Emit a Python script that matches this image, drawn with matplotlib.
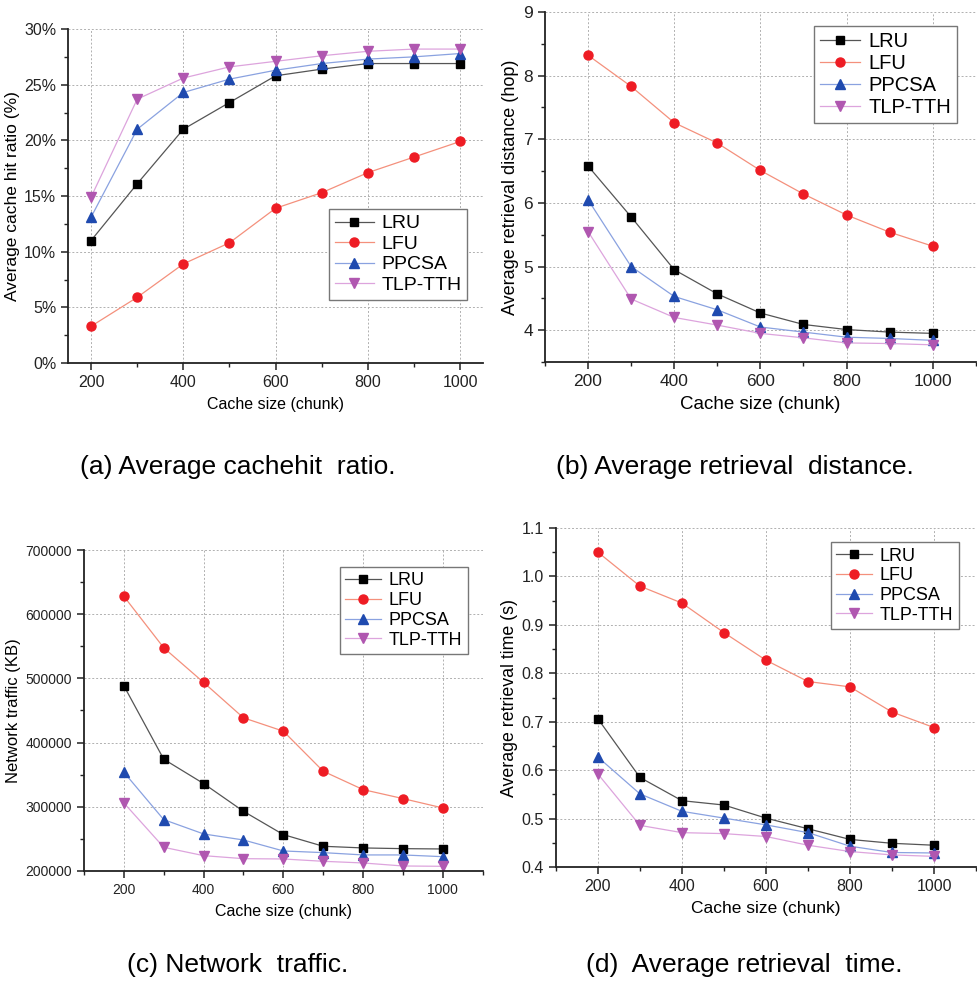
import matplotlib
matplotlib.use("Agg")
import matplotlib.pyplot as plt
from matplotlib.ticker import MultipleLocator, PercentFormatter, FormatStrFormatter

plt.rcParams['font.family'] = ['Liberation Sans', 'DejaVu Sans']

cache_size = [200, 300, 400, 500, 600, 700, 800, 900, 1000]
methods = ['LRU', 'LFU', 'PPCSA', 'TLP-TTH']

# (a) average cache hit ratio, %
hit_lru = [11.0, 16.1, 21.0, 23.4, 25.8, 26.4, 26.9, 26.9, 26.9]
hit_lfu = [3.3, 5.9, 8.9, 10.8, 13.9, 15.3, 17.1, 18.5, 19.9]
hit_ppcsa = [13.1, 21.0, 24.3, 25.5, 26.3, 26.9, 27.3, 27.5, 27.8]
hit_tlp = [14.9, 23.7, 25.6, 26.6, 27.1, 27.6, 28.0, 28.2, 28.2]

# (b) average retrieval distance, hop
dist_lru = [6.58, 5.78, 4.95, 4.57, 4.27, 4.09, 4.01, 3.97, 3.95]
dist_lfu = [8.32, 7.83, 7.26, 6.94, 6.51, 6.14, 5.81, 5.54, 5.32]
dist_ppcsa = [6.05, 5.00, 4.53, 4.32, 4.05, 3.97, 3.89, 3.87, 3.84]
dist_tlp = [5.55, 4.49, 4.20, 4.08, 3.95, 3.88, 3.80, 3.79, 3.77]

# (c) network traffic, KB
traf_lru = [488500, 374100, 336200, 293000, 256700, 238500, 235900, 234800, 234300]
traf_lfu = [627800, 547700, 493700, 438600, 417800, 355400, 326800, 312800, 298200]
traf_ppcsa = [353800, 280000, 257700, 248300, 231200, 228600, 225000, 225000, 222300]
traf_tlp = [306000, 236900, 223900, 219200, 218700, 215100, 212500, 207800, 207300]

# (d) average retrieval time, s
time_lru = [0.706, 0.585, 0.537, 0.528, 0.501, 0.479, 0.457, 0.449, 0.445]
time_lfu = [1.050, 0.980, 0.945, 0.884, 0.827, 0.783, 0.772, 0.720, 0.688]
time_ppcsa = [0.627, 0.551, 0.515, 0.501, 0.487, 0.471, 0.443, 0.430, 0.429]
time_tlp = [0.592, 0.486, 0.471, 0.469, 0.463, 0.445, 0.432, 0.425, 0.422]

# marker colour, line colour, marker, marker size
styles = [
    ('#000000', '#555555', 's', 5.5),
    ('#ee1c24', '#f4907c', 'o', 6.5),
    ('#1f4aaf', '#8aa2e0', '^', 6.5),
    ('#b057b0', '#dda4dd', 'v', 6.5),
]

fig = plt.figure(figsize=(9.77, 9.91), dpi=100)

def panel(rect, series, xlim, ylim, ymajor, yminor, ylabel, legend_loc, legend_anchor,
          legend_fs, ylabel_fs, xlabel_fs, tick_fs):
    ax = fig.add_axes(rect)
    for vals, name, (mc, lc, mk, ms) in zip(series, methods, styles):
        ax.plot(cache_size, vals, color=lc, lw=0.9, marker=mk, ms=ms,
                markerfacecolor=mc, markeredgecolor=mc, label=name)
    ax.set_xlim(*xlim)
    ax.set_ylim(*ylim)
    ax.xaxis.set_major_locator(MultipleLocator(200))
    ax.xaxis.set_minor_locator(MultipleLocator(100))
    ax.yaxis.set_major_locator(MultipleLocator(ymajor))
    ax.yaxis.set_minor_locator(MultipleLocator(yminor))
    ax.grid(True, which='major', ls=(0, (2, 2)), color='#b0b0b0', lw=0.7)
    ax.spines['top'].set_visible(False)
    ax.spines['right'].set_visible(False)
    for s in ('left', 'bottom'):
        ax.spines[s].set_linewidth(1.3)
        ax.spines[s].set_color('#222222')
    ax.tick_params(which='major', direction='out', length=5, width=1.1,
                   labelsize=tick_fs, colors='#222222')
    ax.tick_params(which='minor', direction='out', length=3, width=1.0, colors='#222222')
    ax.set_xlabel('Cache size (chunk)', fontsize=xlabel_fs, labelpad=5)
    ax.set_ylabel(ylabel, fontsize=ylabel_fs, labelpad=3)
    leg = ax.legend(loc=legend_loc, bbox_to_anchor=legend_anchor, fontsize=legend_fs,
                    fancybox=False, framealpha=1, edgecolor='#777777',
                    handlelength=2.0, handletextpad=0.4, labelspacing=0.15, borderpad=0.3)
    leg.get_frame().set_linewidth(1.0)
    return ax

ax_a = panel([0.0696, 0.6337, 0.425, 0.337], [hit_lru, hit_lfu, hit_ppcsa, hit_tlp],
             (150, 1050), (0, 30), 5, 2.5, 'Average cache hit ratio (%)',
             'lower right', (0.985, 0.16), 14, 12.5, 11.5, 11.5)
ax_a.yaxis.set_major_formatter(PercentFormatter(decimals=0))

ax_b = panel([0.5578, 0.6347, 0.441, 0.3532], [dist_lru, dist_lfu, dist_ppcsa, dist_tlp],
             (100, 1100), (3.5, 9), 1, 0.5, 'Average retrieval distance (hop)',
             'upper right', (0.98, 0.99), 14.5, 13, 13.5, 12.5)

ax_c = panel([0.086, 0.1211, 0.408, 0.3239], [traf_lru, traf_lfu, traf_ppcsa, traf_tlp],
             (100, 1100), (200000, 700000), 100000, 50000, 'Network traffic (KB)',
             'upper right', (0.985, 0.975), 13, 12, 11.5, 10)

ax_d = panel([0.569, 0.1251, 0.430, 0.3421], [time_lru, time_lfu, time_ppcsa, time_tlp],
             (100, 1100), (0.4, 1.1), 0.1, 0.05, 'Average retrieval time (s)',
             'upper right', (0.98, 0.985), 13, 12.8, 12.5, 11.5)
ax_d.yaxis.set_major_formatter(FormatStrFormatter('%.1f'))

cap_fs = 19
fig.text(0.243, 1 - 467 / 991, '(a) Average cachehit  ratio.', ha='center', va='center',
         fontsize=cap_fs)
fig.text(0.752, 1 - 467 / 991, '(b) Average retrieval  distance.', ha='center', va='center',
         fontsize=cap_fs)
fig.text(0.243, 1 - 965 / 991, '(c) Network  traffic.', ha='center', va='center',
         fontsize=cap_fs)
fig.text(0.762, 1 - 965 / 991, '(d)  Average retrieval  time.', ha='center', va='center',
         fontsize=cap_fs)

fig.savefig('out.png', dpi=100)
